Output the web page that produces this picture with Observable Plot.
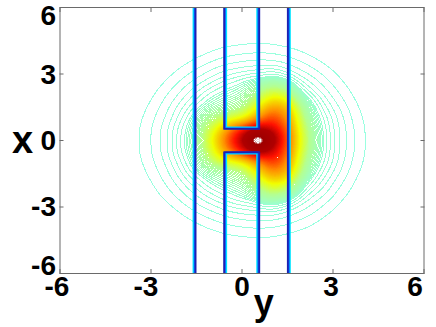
<!DOCTYPE html>
<html><head><meta charset="utf-8">
<style>html,body{margin:0;padding:0;background:#fff}svg{display:block}.rings path{shape-rendering:crispEdges}</style>
<script src="https://cdn.jsdelivr.net/npm/d3@7"></script>
<script src="https://cdn.jsdelivr.net/npm/@observablehq/plot@0.6"></script>
</head><body><div id="c"></div>
<script>
const yCols=[-4.5,-4,-3.5,-3,-2.5,-2,-1.5,-1,-0.5,0,0.5,1,1.5,2,2.5,3,3.5,4,4.5];
const xRows=[0,0.5,1,1.5,2,2.5,3,3.5,4,4.5,5];
const levelRows=[
[0,0,.7,2,3.6,7,12,20,30,38,47,41,30,18,10,5,2.7,1.1,0],
[0,0,.7,1.9,3.6,7,11,18,27,34,40,36,29,17,9.5,5,2.6,1.1,0],
[0,0,.5,1.7,3,5.7,10,15,17,18,26,32,27,15,8.5,4.7,2.3,.9,0],
[0,0,.2,1.3,2.6,4.8,7.5,10,12,14,20,27,25,13,6.8,3.8,1.9,.6,0],
[0,0,0,.8,2,3.4,5.4,8,9.5,10.5,15,20,18,9,5,2.7,1.4,.2,0],
[0,0,0,.3,1.3,2.5,3.8,5.4,7.3,8.8,11,14,12,5.2,3.4,2,.8,0,0],
[0,0,0,0,.6,1.5,2.5,3.5,4.6,5.3,5.6,6.5,4.5,3.3,2.2,1.2,.2,0,0],
[0,0,0,0,0,.7,1.4,2.1,2.7,3.1,3.3,3.1,2.7,2,1.3,.4,0,0,0],
[0,0,0,0,0,0,.5,1,1.5,1.7,1.85,1.8,1.5,1,.3,0,0,0,0],
[0,0,0,0,0,0,0,.2,.4,.6,.7,.6,.3,0,0,0,0,0,0],
[0,0,0,0,0,0,0,0,0,0,0,0,0,0,0,0,0,0,0]
];
const outerThresholds=[1,2,3,4,5,6,7,8,8.5,9,9.5,10,10.5,11,11.5,12];
const midThresholds=[12.5,13,13.5,14,14.5,15,15.5,16,16.5,17,17.5,18,18.5,19,19.5,20];
const coreThresholds=d3.range(20.25,44,0.25);
const thresholds=[...outerThresholds,...midThresholds,...coreThresholds];
const colorLevels=[1,8,14,20,27,33,37,41.6,42.2];
const colorStops=["#9affe0","#9affd0","#b4ff90","#f0ff00","#ff9000","#ff1000","#b00000","#a00000","#e8d8d8"];
const wallOffsets=[0.04,0,-0.03];
const wallColors=["#00e5ff","#0060ff","#2020b0"];
const xTicks=[-6,-3,0,3,6];
const xTickShift=[-3,-5,0,-2,-9];
const yTicks=[-6,-3,0,3,6];
const yTickShift=[-7,0,1,1,9];
const points=[];
xRows.forEach((x,r)=>yCols.forEach((y,c)=>{
  points.push({y,x,v:levelRows[r][c]});
  if(x>0)points.push({y,x:-x,v:levelRows[r][c]});
}));
const walls=[];
wallOffsets.forEach((d,k)=>{
  const col=wallColors[k];
  const add=(id,pts)=>pts.forEach(([y,x])=>walls.push({id:id+"-"+k,k,col,y,x}));
  add("a",[[-1.56-d,-6],[-1.56-d,6]]);
  add("d",[[1.54+d,-6],[1.54+d,6]]);
  add("u",[[-.56+d,6],[-.56+d,.55+d],[.54-d,.55+d],[.54-d,6]]);
  add("l",[[-.56+d,-6],[-.56+d,-.55-d],[.54-d,-.55-d],[.54-d,-6]]);
});
const font="'Liberation Sans',Arial,sans-serif";
const grey="#6a6a6a";
const plot=Plot.plot({
  width:436,height:327,marginLeft:59.5,marginRight:12.5,marginTop:7,marginBottom:54,
  style:{fontFamily:font,fontWeight:"bold",color:"#000",background:"#fff"},
  x:{domain:[-6,6]},y:{domain:[-6,6]},
  color:{type:"linear",domain:colorLevels,range:colorStops,clamp:true},
  marks:[
    Plot.contour(points,{x:"y",y:"x",value:"v",interpolate:"barycentric",pixelSize:1,blur:5,thresholds,fill:"none",stroke:"value",strokeWidth:1,clip:true,className:"rings"}),
    Plot.line(walls,{x:"y",y:"x",z:"id",stroke:"col",strokeWidth:1.8,clip:true,strokeLinejoin:"round"}),
    Plot.frame({stroke:grey,strokeWidth:1,strokeOpacity:1}),
    Plot.axisX(xTicks,{anchor:"bottom",tickSize:-4,stroke:grey,text:null,label:null}),
    Plot.axisX(xTicks,{anchor:"top",tickSize:-4,stroke:grey,text:null,label:null}),
    Plot.axisY(yTicks,{anchor:"left",tickSize:-4,stroke:grey,text:null,label:null}),
    Plot.axisY(yTicks,{anchor:"right",tickSize:-4,stroke:grey,text:null,label:null}),
    ...xTicks.map((t,i)=>Plot.text([String(t)],{x:[t],frameAnchor:"bottom",dx:xTickShift[i],dy:22,fontSize:28,fontWeight:"bold",fill:"#000"})),
    ...yTicks.map((t,i)=>Plot.text([String(t)],{y:[t],frameAnchor:"left",textAnchor:"end",dx:-4,dy:yTickShift[i],fontSize:28,fontWeight:"bold",fill:"#000"})),
    Plot.text(["y"],{x:[0.72],frameAnchor:"bottom",dy:41,fontSize:36,fontWeight:"bold",fill:"#000"}),
    Plot.text(["x"],{y:[0],frameAnchor:"left",dx:-48,fontSize:38,fontWeight:"bold",fill:"#000"})
  ]
});
document.getElementById("c").appendChild(plot);
</script></body></html>
